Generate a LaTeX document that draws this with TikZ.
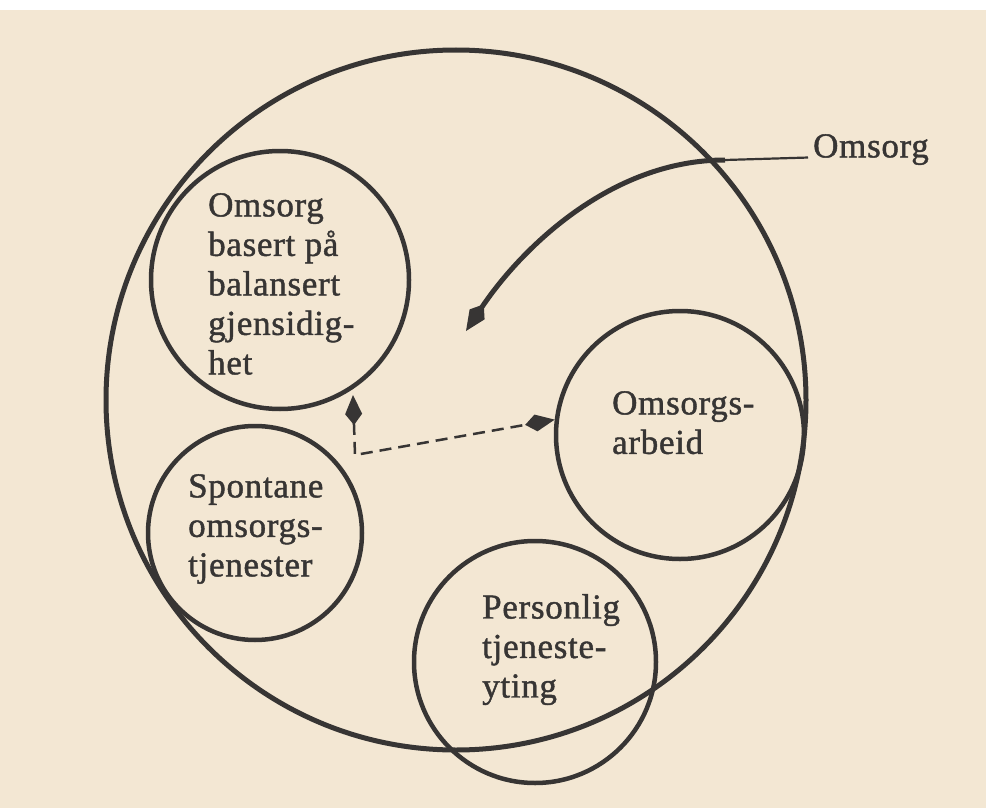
\documentclass[tikz,border=0pt]{standalone}
\usepackage{fontspec}
\setmainfont{Liberation Serif}[LetterSpace=2, FakeBold=1.2]
\usetikzlibrary{arrows.meta}

\definecolor{paper}{RGB}{243,231,211}
\definecolor{ink}{RGB}{55,53,52}

\begin{document}
\begin{tikzpicture}[
x=1pt, y=-1pt,
ring/.style = {circle, draw=ink, line width=4.5pt, inner sep=0pt},
ringtext/.style = {anchor=north west, inner sep=0pt, align=left, text=ink,
                   font=\fontsize{35}{39.5}\selectfont},
dasharrow/.style = {draw=ink, line width=2.5pt, dash pattern=on 12pt off 7pt},
>={Kite[length=30pt, width=17pt, inset=11pt]}
                    ]
% paper
\fill[paper] (0,0) rectangle (986,808);
\fill[white] (0,0) rectangle (986,10);
\useasboundingbox (0,0) rectangle (986,808);

% outer circle
\node[ring, line width=5pt, minimum size=700pt] (omsorgring) at (456,400) {};

% inner circles
\node[ring, minimum size=258pt] (balansert) at (280,280) {};
\node[ring, minimum size=214pt] (spontan) at (255,533) {};
\node[ring, minimum size=248pt] (arbeid) at (680,435) {};
\node[ring, minimum size=242pt] (personlig) at (535,662) {};

% texts
\node[ringtext] (balanserttext) at (208,193) {Omsorg\\basert på\\balansert\\gjensidig-\\het};
\node[ringtext] (spontantext) at (188,474) {Spontane\\omsorgs-\\tjenester};
\node[ringtext] (arbeidtext) at (612,391) {Omsorgs-\\arbeid};
\node[ringtext] (personligtext) at (482,594) {Personlig\\tjeneste-\\yting};
\node[ringtext] (omsorg) at (813,134) {Omsorg};

% omsorg arrow
\coordinate (bend) at (725,160);
\coordinate (inward) at (466,331);
\draw[ink, line width=2.2pt, shorten <=5pt] (omsorg.base west) -- (bend);
\draw[ink, line width=5pt, -{Kite[length=32pt, width=18pt, inset=12pt]}]
    (bend) .. controls (610,160) and (520,250) .. (inward);

% dashed arrows
\coordinate (corner) at (355,455);
\coordinate (upend) at (353,395);
\draw[dasharrow, <->] (upend) -- (corner) -- (arbeid.173);

\end{tikzpicture}
\end{document}
